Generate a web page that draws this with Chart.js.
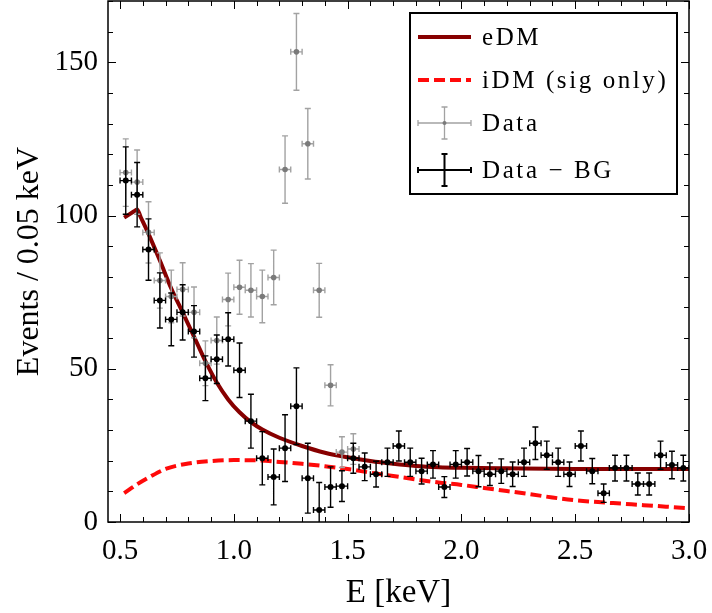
<!DOCTYPE html>
<html><head><meta charset="utf-8">
<script src="https://cdn.jsdelivr.net/npm/chart.js@4.4.1/dist/chart.umd.min.js"></script>
<style>html,body{margin:0;padding:0;background:#fff;} #wrap{width:712px;height:613px;}</style>
</head><body><div id="wrap"><canvas id="c" width="712" height="613"></canvas></div>
<script>
// ---- data ----
const binCenters = [0.525,0.575,0.625,0.675,0.725,0.775,0.825,0.875,0.925,0.975,
  1.025,1.075,1.125,1.175,1.225,1.275,1.325,1.375,1.425,1.475,
  1.525,1.575,1.625,1.675,1.725,1.775,1.825,1.875,1.925,1.975,
  2.025,2.075,2.125,2.175,2.225,2.275,2.325,2.375,2.425,2.475,
  2.525,2.575,2.625,2.675,2.725,2.775,2.825,2.875,2.925,2.975];
const dataMinusBG = [111.4,106.8,88.9,72.3,66.1,68.4,62.2,46.9,53.1,59.6,
  49.5,32.9,20.8,14.7,24.1,37.8,14.3,3.9,11.4,11.7,
  20.8,18.0,15.6,19.5,24.8,19.5,16.6,18.8,11.4,18.8,
  19.5,16.6,15.6,16.6,15.6,19.5,25.7,21.8,19.5,15.6,
  24.8,16.6,9.4,17.6,17.6,12.4,12.4,21.8,18.6,17.6];
const dataMinusBGErr = [11,10.5,10,9,8.6,9,8.4,7.3,7.9,8.7,
  8.9,8.8,8.7,9.1,10.9,12.5,11.4,9,6.6,5,
  4.9,4.5,4.2,4.6,4.9,4.6,4.2,4.5,3.4,4.5,
  4.5,5.1,3.7,4,4,4.6,5.3,4.6,4.6,4,
  4.9,4.1,3,4.2,4.2,3.6,3.6,4.6,4.5,4.2];
const rawCenters = [0.525,0.575,0.625,0.675,0.725,0.775,0.825,0.875,0.925,0.975,
  1.025,1.075,1.125,1.175,1.225,1.275,1.325,1.375,1.425,1.475,1.525];
const dataRaw = [114,110.9,94.5,78.8,73.6,75.9,68.4,51.8,59.2,72.6,
  76.6,75.6,73.6,79.8,115,153.4,123.4,75.6,44.6,22.8,23.8];
const dataRawErr = [11,10.5,10,9,8.6,8.7,8.3,7.3,7.7,8.6,
  8.8,8.7,8.6,8.9,11,12.5,11.5,8.8,6.7,5,5];
const eDM_E = [0.518,0.56,0.575,0.59,0.625,0.675,0.725,0.775,0.825,0.875,0.925,0.975,1.025,1.075,1.125,1.2,1.3,1.4,1.5,1.6,1.7,1.8,1.9,2.0,2.2,2.5,3.0];
const eDM_V = [99.3,101.3,102,99.6,94,85.3,76.2,68.4,60.5,52.5,45.5,40,35.8,32.6,30.2,27.5,24.8,22.6,21.1,19.9,19,18.3,17.9,17.7,17.5,17.3,17.3];
const iDM_E = [0.518,0.575,0.63,0.7,0.8,0.9,1.0,1.1,1.2,1.3,1.4,1.5,1.6,1.7,1.8,1.9,2.0,2.1,2.2,2.3,2.4,2.5,2.6,2.7,2.8,2.9,3.0];
const iDM_V = [9.4,12.3,14.7,17.3,19.1,19.9,20.2,20.1,19.6,19.0,18.2,17.3,16.1,15.0,13.9,12.9,12.1,11.1,10.1,9.1,8.0,7.1,6.5,6.0,5.5,5.0,4.5];
const xTickValues = [0.5,1.0,1.5,2.0,2.5,3.0];
const xTickLabels = ['0.5','1.0','1.5','2.0','2.5','3.0'];
const yTickValues = [0,50,100,150];
const yTickLabels = ['0','50','100','150'];
const binHalfWidth = 0.025;

const FONT = "'Liberation Serif', 'Times New Roman', serif";

const pts = (xs, ys) => xs.map((v, i) => ({x: v, y: ys[i]}));

const errorBars = {
  id: 'errorBars',
  beforeDatasetDraw(chart, args) {
    const ds = chart.data.datasets[args.index];
    if (!ds.errY) return;
    const {ctx, chartArea: a, scales: {x, y}} = chart;
    ctx.save();
    ctx.beginPath(); ctx.rect(a.left, a.top, a.right - a.left, a.bottom - a.top); ctx.clip();
    ctx.strokeStyle = ds.errColor; ctx.lineWidth = ds.errWidth;
    ctx.beginPath();
    const cap = 3;
    ds.data.forEach((p, i) => {
      const px = x.getPixelForValue(p.x), py = y.getPixelForValue(p.y);
      const yt = y.getPixelForValue(p.y + ds.errY[i]), yb = y.getPixelForValue(p.y - ds.errY[i]);
      const xl = x.getPixelForValue(p.x - ds.errX), xr = x.getPixelForValue(p.x + ds.errX);
      ctx.moveTo(px, yt); ctx.lineTo(px, yb);
      ctx.moveTo(px - cap, yt); ctx.lineTo(px + cap, yt);
      ctx.moveTo(px - cap, yb); ctx.lineTo(px + cap, yb);
      ctx.moveTo(xl, py); ctx.lineTo(xr, py);
      ctx.moveTo(xl, py - cap); ctx.lineTo(xl, py + cap);
      ctx.moveTo(xr, py - cap); ctx.lineTo(xr, py + cap);
    });
    ctx.stroke();
    ctx.restore();
  }
};

const frameTicks = {
  id: 'frameTicks',
  afterDraw(chart) {
    const {ctx, chartArea: a, scales: {x, y}} = chart;
    ctx.save();
    ctx.strokeStyle = '#000';
    ctx.lineWidth = 1;
    ctx.beginPath();
    const major = 8, minor = 5;
    for (let k = 5; k <= 30; k++) {
      const v = k / 10;
      const px = Math.round(x.getPixelForValue(v)) + 0.5;
      const len = (k % 5 === 0) ? major : minor;
      ctx.moveTo(px, a.bottom); ctx.lineTo(px, a.bottom - len);
      ctx.moveTo(px, a.top); ctx.lineTo(px, a.top + len);
    }
    for (let v = 0; v <= 170; v += 10) {
      const py = Math.round(y.getPixelForValue(v)) + 0.5;
      const len = (v % 50 === 0) ? major : minor;
      ctx.moveTo(a.left, py); ctx.lineTo(a.left + len, py);
      ctx.moveTo(a.right, py); ctx.lineTo(a.right - len, py);
    }
    ctx.stroke();
    ctx.lineWidth = 1.5;
    ctx.strokeRect(a.left, a.top, a.right - a.left, a.bottom - a.top);
    ctx.restore();
  }
};

const boxLegend = {
  id: 'boxLegend',
  afterDraw(chart) {
    const {ctx, chartArea: a} = chart;
    const ds = chart.data.datasets;
    const L = a.right - 279, R = a.right - 12, T = a.top + 12, B = a.top + 193;
    ctx.save();
    ctx.fillStyle = '#fff';
    ctx.fillRect(L, T, R - L, B - T);
    ctx.strokeStyle = '#000'; ctx.lineWidth = 2;
    ctx.strokeRect(L, T, R - L, B - T);
    const rows = [T + 24, T + 67, T + 110, T + 157];
    const sx0 = L + 8, sx1 = L + 61, tx = L + 72;
    ctx.font = '25px ' + FONT;
    ctx.fillStyle = '#000';
    ctx.textBaseline = 'middle';
    ctx.letterSpacing = '2.6px';
    ds.forEach((d, i) => {
      const yy = rows[i];
      ctx.save();
      if (d.errY) {
        ctx.strokeStyle = d.errColor; ctx.lineWidth = d.legendWidth;
        const cx = (sx0 + sx1) / 2, h = 16, c = 3;
        ctx.beginPath();
        ctx.moveTo(sx0, yy); ctx.lineTo(sx1, yy);
        ctx.moveTo(sx0, yy - c); ctx.lineTo(sx0, yy + c);
        ctx.moveTo(sx1, yy - c); ctx.lineTo(sx1, yy + c);
        ctx.moveTo(cx, yy - h); ctx.lineTo(cx, yy + h);
        ctx.moveTo(cx - c, yy - h); ctx.lineTo(cx + c, yy - h);
        ctx.moveTo(cx - c, yy + h); ctx.lineTo(cx + c, yy + h);
        ctx.stroke();
        if (d.legendDot) {
          ctx.fillStyle = d.backgroundColor;
          ctx.beginPath(); ctx.arc(cx, yy, 2, 0, Math.PI * 2); ctx.fill();
        }
      } else {
        ctx.strokeStyle = d.borderColor; ctx.lineWidth = d.borderWidth;
        ctx.setLineDash(d.borderDash || []);
        ctx.beginPath(); ctx.moveTo(sx0, yy); ctx.lineTo(sx1, yy); ctx.stroke();
      }
      ctx.restore();
      ctx.fillText(d.label, tx, yy + 1);
    });
    ctx.restore();
  }
};

const noPad = s => { s.paddingTop = 0; s.paddingBottom = 0; s.paddingLeft = 0; s.paddingRight = 0; };

new Chart(document.getElementById('c'), {
  type: 'scatter',
  data: {
    datasets: [
      {label: 'eDM', data: pts(eDM_E, eDM_V), showLine: true, borderColor: '#870000', borderWidth: 4,
       pointRadius: 0, cubicInterpolationMode: 'monotone', order: 3},
      {label: 'iDM (sig only)', data: pts(iDM_E, iDM_V), showLine: true, borderColor: '#ff0a0a', borderWidth: 4,
       borderDash: [11, 5], pointRadius: 0, cubicInterpolationMode: 'monotone', order: 4},
      {label: 'Data', data: pts(rawCenters, dataRaw), pointRadius: 2.8, backgroundColor: '#7a7a7a', borderWidth: 0,
       errY: dataRawErr, errX: binHalfWidth, errColor: '#a2a2a2', errWidth: 1.4, legendWidth: 1.3, legendDot: true, order: 2},
      {label: 'Data \u2212 BG', data: pts(binCenters, dataMinusBG), pointRadius: 3, backgroundColor: '#000', borderWidth: 0,
       errY: dataMinusBGErr, errX: binHalfWidth, errColor: '#000', errWidth: 1.4, legendWidth: 2, order: 1}
    ]
  },
  options: {
    responsive: false, animation: false, devicePixelRatio: 1,
    layout: {autoPadding: false, padding: {top: 1, right: 23, left: 0, bottom: 0}},
    plugins: {legend: {display: false}, tooltip: {enabled: false}},
    scales: {
      x: {
        type: 'linear', min: 0.447, max: 3.0,
        afterBuildTicks: s => { s.ticks = xTickValues.map(v => ({value: v})); },
        afterFit: s => { s.height = 91; noPad(s); },
        grid: {display: false, drawTicks: false},
        border: {display: false},
        ticks: {autoSkip: false, maxRotation: 0, padding: 12, color: '#000',
          font: {family: FONT, size: 29},
          callback: v => xTickLabels[xTickValues.indexOf(v)]},
        title: {display: true, text: 'E [keV]', color: '#000', font: {family: FONT, size: 33}, padding: {top: 4, bottom: 0}}
      },
      y: {
        type: 'linear', min: 0, max: 170,
        afterBuildTicks: s => { s.ticks = yTickValues.map(v => ({value: v})); },
        afterFit: s => { s.width = 108; noPad(s); },
        grid: {display: false, drawTicks: false},
        border: {display: false},
        ticks: {autoSkip: false, padding: 10, color: '#000',
          font: {family: FONT, size: 29},
          callback: v => yTickLabels[yTickValues.indexOf(v)]},
        title: {display: true, text: 'Events / 0.05 keV', color: '#000', font: {family: FONT, size: 32}, padding: {top: 10, bottom: 0}}
      }
    }
  },
  plugins: [errorBars, frameTicks, boxLegend]
});
</script></body></html>
